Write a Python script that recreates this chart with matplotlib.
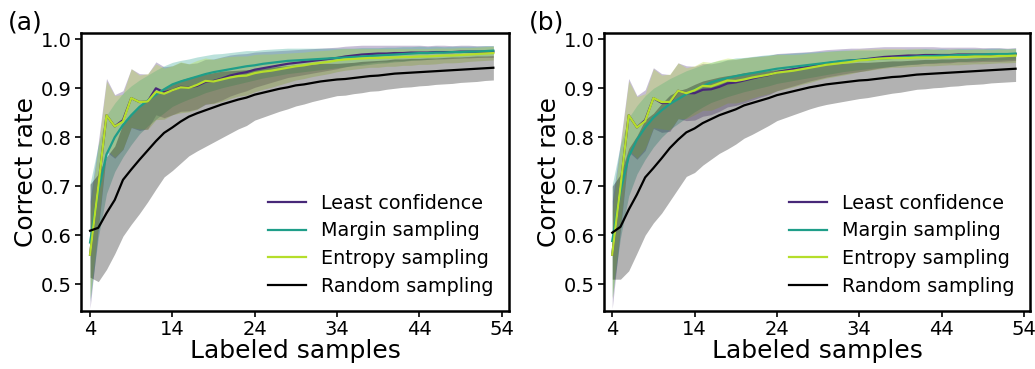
import matplotlib
matplotlib.use("Agg")
import matplotlib.pyplot as plt
import numpy as np

x = list(range(4, 54))
labels = ["Least confidence", "Margin sampling", "Entropy sampling", "Random sampling"]
colors = ["#482878", "#1f9e89", "#b5de2b", "#000000"]

# ---------- panel (a) ----------
lc_a = [0.560,0.700,0.845,0.822,0.835,0.880,0.872,0.873,0.900,0.892,
        0.896,0.903,0.902,0.905,0.913,0.915,0.920,0.926,0.930,0.933,
        0.938,0.941,0.944,0.947,0.950,0.952,0.954,0.956,0.958,0.960,
        0.962,0.965,0.967,0.969,0.970,0.971,0.971,0.972,0.972,0.973,
        0.973,0.973,0.974,0.974,0.974,0.975,0.975,0.975,0.975,0.975]
lc_a_sd = [0.110,0.090,0.075,0.065,0.060,0.060,0.058,0.056,0.054,0.052,
           0.050,0.050,0.048,0.047,0.046,0.045,0.044,0.042,0.040,0.038,
           0.036,0.034,0.032,0.030,0.028,0.027,0.026,0.025,0.024,0.023,
           0.022,0.021,0.020,0.019,0.018,0.017,0.017,0.016,0.016,0.015,
           0.015,0.014,0.014,0.014,0.013,0.013,0.013,0.012,0.012,0.012]
margin_a = [0.585,0.690,0.765,0.800,0.825,0.845,0.862,0.875,0.887,0.898,
            0.908,0.914,0.919,0.924,0.929,0.933,0.936,0.939,0.942,0.945,
            0.947,0.950,0.952,0.954,0.956,0.957,0.958,0.959,0.960,0.961,
            0.962,0.963,0.964,0.965,0.966,0.967,0.968,0.969,0.970,0.971,
            0.972,0.972,0.973,0.973,0.974,0.974,0.975,0.975,0.976,0.977]
margin_a_sd = [0.120,0.095,0.080,0.070,0.065,0.060,0.055,0.052,0.050,0.048,
               0.045,0.043,0.041,0.040,0.038,0.037,0.035,0.034,0.033,0.032,
               0.030,0.029,0.028,0.027,0.026,0.025,0.024,0.023,0.022,0.021,
               0.020,0.019,0.018,0.018,0.017,0.016,0.016,0.015,0.015,0.014,
               0.014,0.013,0.013,0.012,0.012,0.012,0.011,0.011,0.011,0.010]
entropy_a = [0.560,0.700,0.845,0.822,0.832,0.880,0.872,0.873,0.893,0.889,
             0.896,0.902,0.901,0.907,0.915,0.914,0.918,0.922,0.925,0.926,
             0.931,0.934,0.936,0.939,0.942,0.945,0.947,0.950,0.952,0.954,
             0.957,0.959,0.960,0.961,0.962,0.962,0.963,0.963,0.964,0.964,
             0.965,0.965,0.966,0.967,0.967,0.968,0.969,0.970,0.971,0.972]
entropy_a_sd = [0.090,0.080,0.070,0.063,0.056,0.060,0.055,0.057,0.057,0.052,
                0.050,0.052,0.049,0.050,0.047,0.045,0.045,0.043,0.041,0.040,
                0.038,0.036,0.034,0.032,0.030,0.028,0.027,0.026,0.025,0.024,
                0.023,0.022,0.021,0.020,0.019,0.019,0.018,0.018,0.017,0.017,
                0.016,0.016,0.016,0.015,0.015,0.015,0.014,0.014,0.014,0.014]
random_a = [0.609,0.615,0.645,0.672,0.713,0.734,0.754,0.773,0.792,0.809,
            0.820,0.832,0.842,0.849,0.855,0.861,0.867,0.872,0.877,0.881,
            0.887,0.891,0.895,0.899,0.902,0.906,0.908,0.911,0.914,0.916,
            0.918,0.919,0.921,0.923,0.925,0.926,0.928,0.930,0.931,0.932,
            0.933,0.934,0.935,0.936,0.937,0.938,0.939,0.940,0.941,0.942]
random_a_sd = [0.095,0.110,0.115,0.110,0.115,0.112,0.110,0.105,0.098,0.090,
               0.088,0.085,0.080,0.077,0.074,0.071,0.068,0.064,0.060,0.057,
               0.052,0.050,0.048,0.046,0.044,0.042,0.040,0.038,0.037,0.035,
               0.033,0.033,0.032,0.032,0.031,0.031,0.030,0.030,0.029,0.029,
               0.028,0.028,0.027,0.027,0.027,0.026,0.026,0.026,0.025,0.025]

# ---------- panel (b) ----------
lc_b = [0.560,0.700,0.845,0.820,0.835,0.880,0.870,0.870,0.895,0.890,
        0.890,0.897,0.898,0.903,0.910,0.912,0.916,0.920,0.924,0.927,
        0.933,0.936,0.939,0.942,0.945,0.948,0.951,0.953,0.955,0.957,
        0.958,0.960,0.962,0.964,0.965,0.966,0.967,0.967,0.968,0.968,
        0.968,0.968,0.969,0.969,0.969,0.969,0.969,0.969,0.969,0.970]
lc_b_sd = [0.110,0.090,0.075,0.065,0.062,0.062,0.060,0.058,0.057,0.056,
           0.055,0.054,0.052,0.050,0.048,0.047,0.046,0.044,0.042,0.040,
           0.038,0.036,0.034,0.032,0.030,0.029,0.028,0.027,0.026,0.025,
           0.024,0.023,0.022,0.021,0.020,0.019,0.018,0.018,0.017,0.017,
           0.016,0.016,0.015,0.015,0.015,0.014,0.014,0.014,0.013,0.013]
margin_b = [0.588,0.690,0.760,0.795,0.820,0.840,0.855,0.868,0.878,0.888,
            0.897,0.905,0.912,0.917,0.921,0.925,0.928,0.931,0.934,0.937,
            0.940,0.942,0.944,0.946,0.948,0.950,0.952,0.954,0.956,0.957,
            0.958,0.959,0.960,0.961,0.962,0.963,0.964,0.965,0.966,0.966,
            0.967,0.967,0.968,0.968,0.969,0.969,0.970,0.970,0.970,0.971]
margin_b_sd = [0.115,0.095,0.080,0.070,0.065,0.060,0.055,0.052,0.050,0.048,
               0.045,0.043,0.041,0.040,0.038,0.037,0.035,0.034,0.033,0.032,
               0.030,0.029,0.028,0.027,0.026,0.025,0.024,0.023,0.022,0.021,
               0.020,0.019,0.018,0.018,0.017,0.016,0.016,0.015,0.015,0.014,
               0.014,0.013,0.013,0.013,0.012,0.012,0.012,0.012,0.011,0.011]
entropy_b = [0.560,0.700,0.845,0.820,0.833,0.880,0.872,0.872,0.895,0.890,
             0.896,0.905,0.904,0.910,0.916,0.915,0.918,0.922,0.925,0.928,
             0.932,0.934,0.936,0.939,0.942,0.945,0.948,0.950,0.952,0.954,
             0.957,0.958,0.960,0.961,0.962,0.962,0.962,0.963,0.963,0.963,
             0.963,0.964,0.964,0.964,0.965,0.965,0.965,0.966,0.966,0.967]
entropy_b_sd = [0.090,0.080,0.070,0.063,0.056,0.060,0.055,0.057,0.057,0.052,
                0.050,0.050,0.049,0.048,0.046,0.045,0.044,0.042,0.040,0.039,
                0.037,0.035,0.033,0.031,0.030,0.028,0.027,0.026,0.025,0.024,
                0.023,0.022,0.021,0.020,0.019,0.019,0.018,0.018,0.017,0.017,
                0.016,0.016,0.016,0.015,0.015,0.015,0.014,0.014,0.014,0.014]
random_b = [0.605,0.617,0.652,0.683,0.718,0.737,0.757,0.778,0.795,0.810,
            0.818,0.829,0.837,0.845,0.851,0.857,0.865,0.870,0.875,0.880,
            0.886,0.890,0.894,0.898,0.902,0.905,0.908,0.910,0.912,0.914,
            0.916,0.917,0.919,0.921,0.923,0.924,0.926,0.928,0.929,0.930,
            0.931,0.932,0.933,0.934,0.935,0.936,0.937,0.938,0.939,0.940]
random_b_sd = [0.095,0.107,0.125,0.120,0.118,0.112,0.112,0.108,0.100,0.090,
               0.090,0.086,0.082,0.078,0.075,0.071,0.067,0.064,0.060,0.056,
               0.052,0.050,0.048,0.046,0.044,0.042,0.041,0.040,0.039,0.038,
               0.037,0.036,0.035,0.034,0.033,0.032,0.031,0.030,0.030,0.029,
               0.029,0.028,0.028,0.027,0.027,0.027,0.026,0.026,0.026,0.026]

xticks = [4, 14, 24, 34, 44, 54]
yticks = [0.5, 0.6, 0.7, 0.8, 0.9, 1.0]

fig = plt.figure(figsize=(10.35, 3.69), dpi=100)
ax_a = fig.add_axes([81/1035, 58/369, 428/1035, 278/369])
ax_b = fig.add_axes([604/1035, 58/369, 426/1035, 278/369])

panels = [
    (ax_a, "(a)", 8/1035, [lc_a, margin_a, entropy_a, random_a],
     [lc_a_sd, margin_a_sd, entropy_a_sd, random_a_sd], (2.9, 54.9)),
    (ax_b, "(b)", 529/1035, [lc_b, margin_b, entropy_b, random_b],
     [lc_b_sd, margin_b_sd, entropy_b_sd, random_b_sd], (3.0, 54.75)),
]

for ax, tag, tx, means, sds, xl in panels:
    xs = np.array(x)
    for m, s, c in zip(means, sds, colors):
        m = np.array(m); s = np.array(s)
        ax.fill_between(xs, m - s, m + s, color=c, alpha=0.3, linewidth=0)
    for m, c, lab in zip(means, colors, labels):
        ax.plot(xs, m, color=c, lw=1.6, label=lab)
    ax.set_xlim(*xl)
    ax.set_ylim(0.445, 1.013)
    ax.set_xticks(xticks)
    ax.set_yticks(yticks)
    ax.tick_params(labelsize=14, width=1.2, length=4, pad=2.5)
    for sp in ax.spines.values():
        sp.set_linewidth(1.8)
    ax.set_xlabel("Labeled samples", fontsize=18, labelpad=0)
    ax.set_ylabel("Correct rate", fontsize=18, labelpad=2)
    ax.legend(loc="lower right", frameon=False, fontsize=13.8,
              labelspacing=0.45, borderaxespad=0.4)
    fig.text(tx, 0.972, tag, fontsize=18, va="top", ha="left")

fig.savefig("out.png", dpi=100)
